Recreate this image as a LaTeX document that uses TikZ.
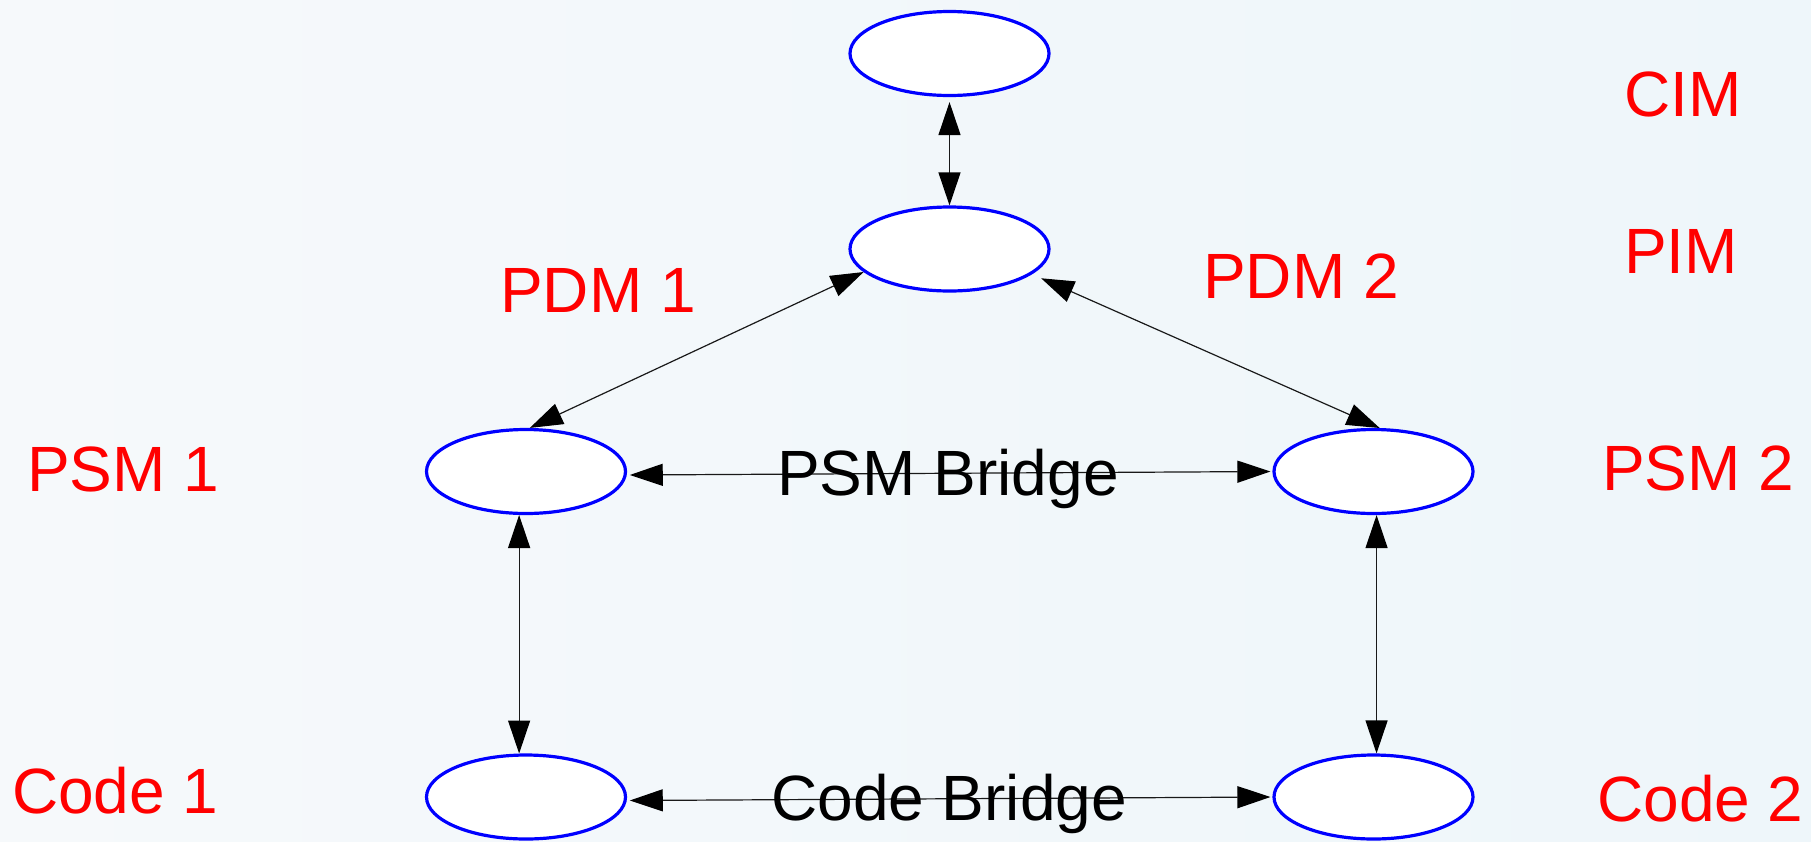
\documentclass[tikz,border=0pt]{standalone}
\usepackage{fontspec}
\setmainfont{Liberation Sans}
\usetikzlibrary{arrows.meta,shapes.geometric}
\definecolor{paperleft}{RGB}{246,249,251}
\definecolor{papermid}{RGB}{250,252,253}
\definecolor{paperright}{RGB}{238,246,250}
\definecolor{ringblue}{RGB}{0,0,255}
\definecolor{labelred}{RGB}{255,0,0}
\begin{document}
\begin{tikzpicture}[x=1pt,y=-1pt,
  model/.style={ellipse, draw=ringblue, fill=white, line width=3.2pt,
    minimum width=199pt, minimum height=84pt, inner sep=0pt},
  link/.style={line width=1.2pt, draw=black!90,
    {Triangle[length=33pt,width=22pt,color=black,fill=black]}-{Triangle[length=33pt,width=22pt,color=black,fill=black]}},
  bigtext/.style={anchor=base west, inner sep=0pt,
    font=\fontsize{64}{77}\selectfont},
  level/.style={bigtext, text=labelred},
  bridge/.style={bigtext, text=black}]
  % canvas
  \useasboundingbox (0,0) rectangle (1811,841);
  \shade[left color=paperleft, middle color=papermid, right color=paperright]
    (0,0) rectangle (1811,841);

  % model ellipses
  \node[model] (cim)   at (949.5,53.5) {};
  \node[model] (pim)   at (949.5,249)  {};
  \node[model] (psm1)  at (526,471.5)  {};
  \node[model] (psm2)  at (1373.5,471.5) {};
  \node[model] (code1) at (526,797)    {};
  \node[model] (code2) at (1373.5,797) {};

  % transformations between models
  \draw[link, shorten <=5pt] (cim.south) -- (pim.north);
  \draw[link] (pim.195) -- (psm1.85);
  \draw[link, shorten <=10pt] (pim.343) -- (psm2.82);
  \draw[link] (psm1.261) -- (code1.99);
  \draw[link] (psm2.274) -- (code2.86);
  \draw[link, shorten <=3pt, shorten >=2pt] (psm1.358) -- (psm2.180);
  \draw[link, shorten <=3pt, shorten >=2pt] (code1.358) -- (code2.180);

  % level names
  \node[level] (lcim)   at (1624,116) {CIM};
  \node[level] (lpim)   at (1624,273) {PIM};
  \node[level] (lpdm1)  at (500,312)  {PDM 1};
  \node[level] (lpdm2)  at (1203,298) {PDM 2};
  \node[level] (lpsm1)  at (27,491)   {PSM 1};
  \node[level] (lpsm2)  at (1602,490) {PSM 2};
  \node[level] (lcode1) at (12,813)   {Code 1};
  \node[level] (lcode2) at (1597,821) {Code 2};

  % bridge names
  \node[bridge] (lpsmb)  at (777,495) {PSM Bridge};
  \node[bridge] (lcodeb) at (771,820) {Code Bridge};
\end{tikzpicture}
\end{document}
